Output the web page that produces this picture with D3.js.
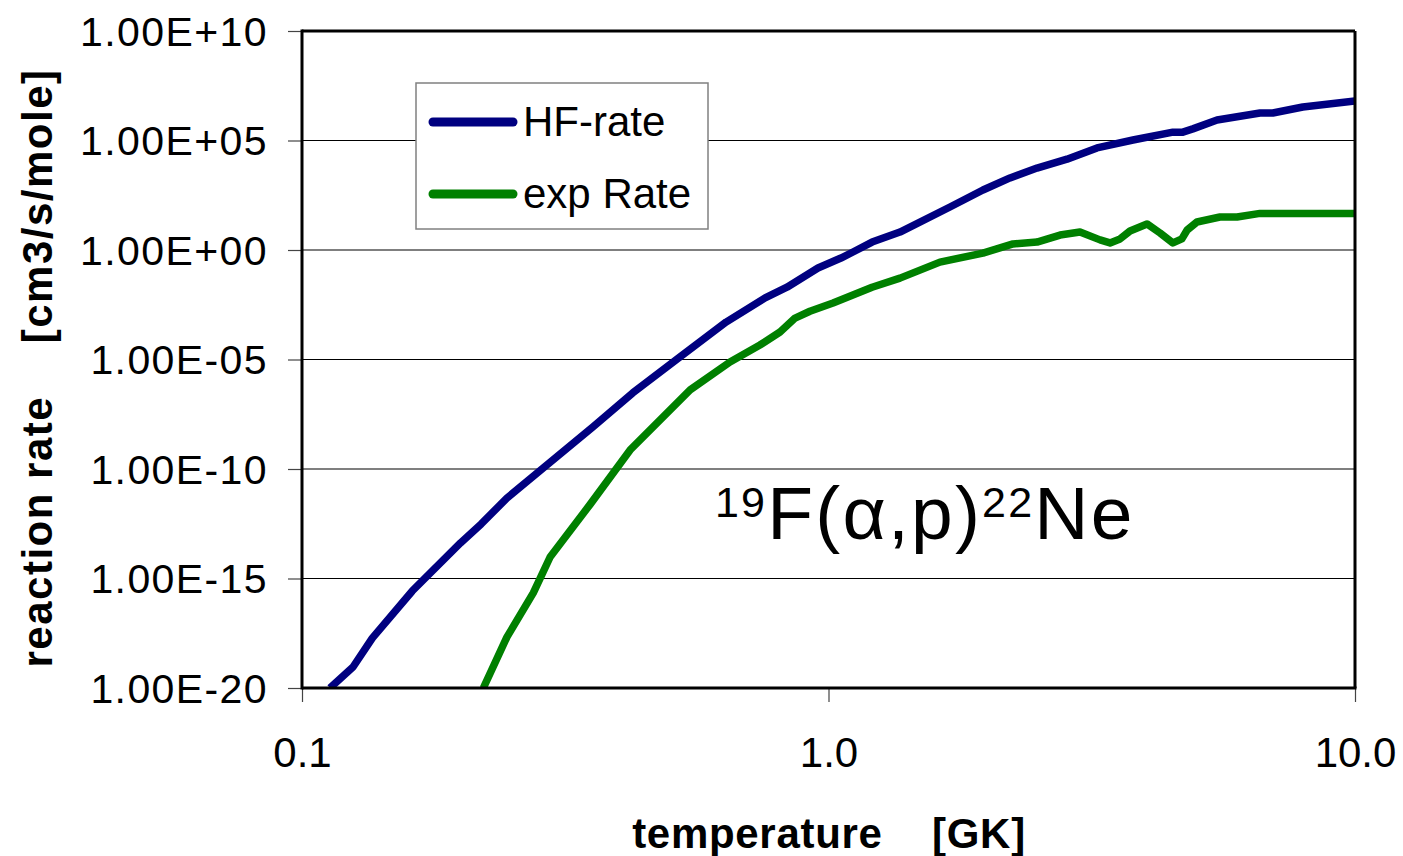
<!DOCTYPE html>
<html>
<head>
<meta charset="utf-8">
<script src="https://cdn.jsdelivr.net/npm/d3@7"></script>
<style>
  html, body { margin: 0; padding: 0; background: #fff; }
  svg { display: block; }
  text { font-family: "Liberation Sans", Arial, sans-serif; fill: #000; }
</style>
</head>
<body>
<svg id="chart" width="1403" height="856"></svg>
<script>
// ---- data (temperature in GK, rate in cm3/s/mole) ----
const hfTemp = [0.113, 0.125, 0.136, 0.162, 0.200, 0.219, 0.245, 0.287, 0.357, 0.425, 0.522, 0.639, 0.758, 0.834, 0.955, 1.056, 1.113, 1.210, 1.367, 1.701, 1.965, 2.212, 2.489, 2.838, 3.236, 3.787, 4.51, 4.71, 4.92, 5.47, 6.60, 6.98, 7.96, 10.0];
const hfRate = [1e-20, 9.1e-20, 1.9e-18, 2.7e-16, 4.2e-14, 3.1e-13, 4.7e-12, 1.1e-10, 8.3e-9, 3.0e-7, 1.3e-5, 5.1e-4, 6.5e-3, 2.0e-2, 0.15, 0.43, 0.81, 2.3, 6.6, 92, 550, 1950, 5500, 1.4e4, 4.6e4, 1.05e5, 2.4e5, 2.4e5, 3.4e5, 8.7e5, 1.8e6, 1.8e6, 3.4e6, 6.3e6];
const expTemp = [0.221, 0.245, 0.275, 0.296, 0.352, 0.420, 0.546, 0.650, 0.741, 0.809, 0.864, 0.922, 1.020, 1.210, 1.367, 1.628, 1.965, 2.241, 2.489, 2.753, 3.004, 3.279, 3.425, 3.579, 3.738, 4.027, 4.263, 4.51, 4.69, 4.80, 5.01, 5.54, 5.97, 6.60, 10.0];
const expRate = [1e-20, 2.1e-18, 2.2e-16, 9.6e-15, 2.3e-12, 7.4e-10, 4.1e-7, 7.7e-6, 4.6e-5, 1.8e-4, 7.8e-4, 1.6e-3, 3.8e-3, 2.0e-2, 5.2e-2, 0.28, 0.72, 1.9, 2.3, 4.8, 6.6, 2.9, 2.1, 3.2, 7.4, 15.5, 6.0, 2.1, 3.2, 8.2, 19, 32, 32, 47, 46];
const seriesNames = ["HF-rate", "exp Rate"];
const yTickValues = [1e10, 1e5, 1e0, 1e-5, 1e-10, 1e-15, 1e-20];
const yTickLabels = ["1.00E+10", "1.00E+05", "1.00E+00", "1.00E-05", "1.00E-10", "1.00E-15", "1.00E-20"];
const xTickValues = [0.1, 1, 10];
const xTickLabels = ["0.1", "1.0", "10.0"];

const colors = ["#000080", "#008000"];

const svg = d3.select("#chart");
const L = 302, R = 1355, T = 31, B = 688;

const x = d3.scaleLog().domain([0.1, 10]).range([L, R]);
const y = d3.scaleLog().domain([1e-20, 1e10]).range([B, T]);

// gridlines
svg.append("g").selectAll("line")
  .data(yTickValues.filter(v => v !== 1e10 && v !== 1e-20))
  .join("line")
  .attr("x1", L).attr("x2", R)
  .attr("y1", d => y(d)).attr("y2", d => y(d))
  .attr("stroke", "#000").attr("stroke-width", 1.2);

// y axis
const yAxis = d3.axisLeft(y).tickValues(yTickValues)
  .tickFormat((d, i) => yTickLabels[i]).tickSize(14).tickPadding(20);
const gy = svg.append("g").attr("transform", `translate(${L},0)`).call(yAxis);
gy.select(".domain").remove();
gy.selectAll(".tick line").attr("stroke", "#444").attr("stroke-width", 1.2);
gy.selectAll(".tick text")
  .attr("font-family", "Liberation Sans, Arial, sans-serif")
  .attr("font-size", 41).attr("fill", "#000").attr("letter-spacing", "1.4px")
  .attr("dy", "0.35em");

// x axis
const xAxis = d3.axisBottom(x).tickValues(xTickValues)
  .tickFormat((d, i) => xTickLabels[i]).tickSize(14).tickPadding(0);
const gx = svg.append("g").attr("transform", `translate(0,${B})`).call(xAxis);
gx.select(".domain").remove();
gx.selectAll(".tick line").attr("stroke", "#444").attr("stroke-width", 1.2);
gx.selectAll(".tick text")
  .attr("font-family", "Liberation Sans, Arial, sans-serif")
  .attr("font-size", 42).attr("fill", "#000")
  .attr("y", 79).attr("dy", 0);

// clip
svg.append("clipPath").attr("id", "plotclip")
  .append("rect").attr("x", L).attr("y", T).attr("width", R - L).attr("height", B - T);

const line = d3.line().x(d => x(d[0])).y(d => y(d[1]));
const series = [d3.zip(hfTemp, hfRate), d3.zip(expTemp, expRate)];

svg.append("g").attr("clip-path", "url(#plotclip)")
  .selectAll("path").data(series).join("path")
  .attr("d", line)
  .attr("fill", "none")
  .attr("stroke", (d, i) => colors[i])
  .attr("stroke-width", 7.5)
  .attr("stroke-linejoin", "round");

// plot frame
svg.append("line").attr("x1", L).attr("x2", R).attr("y1", T).attr("y2", T).attr("stroke", "#000").attr("stroke-width", 3);
svg.append("line").attr("x1", R).attr("x2", R).attr("y1", T).attr("y2", B).attr("stroke", "#000").attr("stroke-width", 3);
svg.append("line").attr("x1", L).attr("x2", L).attr("y1", T - 1.5).attr("y2", B + 1.5).attr("stroke", "#000").attr("stroke-width", 3);
svg.append("line").attr("x1", L).attr("x2", R + 1.5).attr("y1", B).attr("y2", B).attr("stroke", "#000").attr("stroke-width", 3);

// legend
const lg = svg.append("g");
lg.append("rect").attr("x", 416).attr("y", 83).attr("width", 292).attr("height", 146)
  .attr("fill", "#fff").attr("stroke", "#808080").attr("stroke-width", 1.5);
const legY = [122, 194];
seriesNames.forEach((name, i) => {
  lg.append("line").attr("x1", 433).attr("x2", 513).attr("y1", legY[i]).attr("y2", legY[i])
    .attr("stroke", colors[i]).attr("stroke-width", 9).attr("stroke-linecap", "round");
  lg.append("text").attr("x", 523).attr("y", legY[i] + 14)
    .attr("font-size", 42).text(name);
});

// annotation
const ann = svg.append("text").attr("x", 715).attr("y", 539).attr("font-size", 75)
  .attr("letter-spacing", "2.2px");
ann.append("tspan").attr("font-size", 43).attr("dy", -22).text("19");
ann.append("tspan").attr("dy", 22).text("F(α,p)");
ann.append("tspan").attr("font-size", 43).attr("dy", -22).text("22");
ann.append("tspan").attr("dy", 22).text("Ne");

// axis titles
svg.append("text").attr("x", 829).attr("y", 848).attr("text-anchor", "middle")
  .attr("font-size", 42).attr("font-weight", "bold").attr("letter-spacing", "0.7px")
  .style("white-space", "pre").text("temperature    [GK]");
svg.append("text").attr("transform", "translate(52,368) rotate(-90)")
  .attr("text-anchor", "middle")
  .attr("font-size", 42).attr("font-weight", "bold").attr("letter-spacing", "1.5px")
  .style("white-space", "pre").text("reaction rate    [cm3/s/mole]");
</script>
</body>
</html>
